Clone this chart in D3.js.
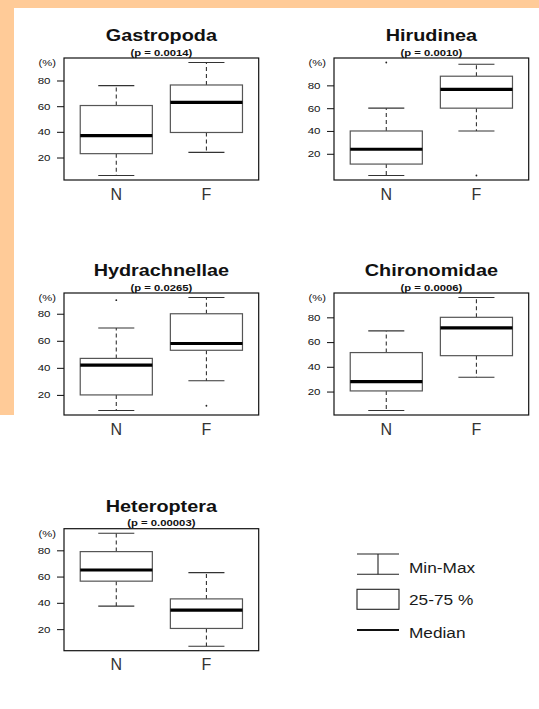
<!DOCTYPE html>
<html>
<head>
<meta charset="utf-8">
<script src="https://cdn.jsdelivr.net/npm/d3@7"></script>
<style>
  html, body { margin: 0; padding: 0; background: #fff; }
  svg { display: block; font-family: "Liberation Sans", Arial, sans-serif; }
</style>
</head>
<body>
<div id="chart"></div>
<script>
// Data (percent)
const taxa = ['Gastropoda', 'Hirudinea', 'Hydrachnellae', 'Chironomidae', 'Heteroptera'];
const pLabels = ['(p = 0.0014)', '(p = 0.0010)', '(p = 0.0265)', '(p = 0.0006)', '(p = 0.00003)'];
const groups = ['N', 'F'];
const yTicks = [20, 40, 60, 80];

const nMin = [6, 1, 8.5, 4.7, 37.5];
const nQ1 = [23, 11, 20, 20.5, 56.5];
const nMedian = [37, 24, 42, 28, 65];
const nQ3 = [60.5, 40, 47, 51.5, 79];
const nMax = [76, 60, 69.5, 69, 93];
const nOutliers = [[], [100], [90], [], []];

const fMin = [24, 40, 30.5, 31.5, 7];
const fQ1 = [39.5, 60, 53, 49, 20.5];
const fMedian = [63, 76.5, 58, 71.5, 34.5];
const fQ3 = [76.5, 88, 80, 80, 43];
const fMax = [94, 98.5, 92, 96, 63];
const fOutliers = [[], [1], [12], [], []];

const legendLabels = ['Min-Max', '25-75 %', 'Median'];

const width = 539, height = 709;

const svg = d3.select('#chart').append('svg')
  .attr('width', width)
  .attr('height', height);

// background
svg.append('rect').attr('width', width).attr('height', height).attr('fill', '#fff');
svg.append('rect').attr('x', 0).attr('y', 0).attr('width', width).attr('height', 8).attr('fill', '#FFCB98');
svg.append('rect').attr('x', 0).attr('y', 0).attr('width', 14).attr('height', 415).attr('fill', '#FFCB98');

// helper: horizontally stretched text (the source picture is stretched)
function stretchText(g, x, y, sx, txt) {
  return g.append('text')
    .attr('transform', 'translate(' + x + ',' + y + ') scale(' + sx + ',1)')
    .text(txt);
}

// panel layout
const boxW = 194.7, boxH = 122;
const colX = [64, 334];
const rowY = [58, 293, 528.7];

taxa.forEach((name, i) => {
  const left = colX[i % 2];
  const top = rowY[Math.floor(i / 2)];
  const g = svg.append('g').attr('transform', 'translate(' + left + ',' + top + ')');

  const stats = [
    { min: nMin[i], q1: nQ1[i], med: nMedian[i], q3: nQ3[i], max: nMax[i], out: nOutliers[i] },
    { min: fMin[i], q1: fQ1[i], med: fMedian[i], q3: fQ3[i], max: fMax[i], out: fOutliers[i] }
  ];

  // R style: range of data extended by 4%
  const all = stats.flatMap(s => [s.min, s.max].concat(s.out));
  const lo = d3.min(all), hi = d3.max(all);
  const pad = (hi - lo) * 0.04;
  const y = d3.scaleLinear().domain([lo - pad, hi + pad]).range([boxH, 0]);
  const x = d3.scaleLinear().domain([0.42, 2.58]).range([0, boxW]);

  // y axis
  const yAxis = d3.axisLeft(y).tickValues(yTicks).tickSize(7).tickFormat('');
  const ax = g.append('g').call(yAxis);
  ax.select('.domain').remove();
  ax.selectAll('.tick line').attr('stroke', '#222').attr('stroke-width', 1.1);

  const labels = g.append('g')
    .attr('font-size', 9.2)
    .attr('text-anchor', 'end')
    .attr('fill', '#111');
  yTicks.forEach(t => {
    stretchText(labels, -13.5, y(t) + 3.4, 1.25, t);
  });
  stretchText(labels, -8, 8, 1.22, '(%)');

  // boxes
  stats.forEach((s, j) => {
    const cx = x(j + 1);
    const half = x(1.4) - x(1);
    const cap = x(1.2) - x(1);
    // whiskers
    g.append('line')
      .attr('x1', cx).attr('x2', cx)
      .attr('y1', y(s.q3)).attr('y2', y(s.max))
      .attr('stroke', '#333').attr('stroke-width', 1.1).attr('stroke-dasharray', '4,3');
    g.append('line')
      .attr('x1', cx).attr('x2', cx)
      .attr('y1', y(s.q1)).attr('y2', y(s.min))
      .attr('stroke', '#333').attr('stroke-width', 1.1).attr('stroke-dasharray', '4,3');
    [s.min, s.max].forEach(v => {
      g.append('line')
        .attr('x1', cx - cap).attr('x2', cx + cap)
        .attr('y1', y(v)).attr('y2', y(v))
        .attr('stroke', '#333').attr('stroke-width', 1.1);
    });
    g.append('rect')
      .attr('x', cx - half).attr('y', y(s.q3))
      .attr('width', half * 2).attr('height', y(s.q1) - y(s.q3))
      .attr('fill', '#fff').attr('stroke', '#555').attr('stroke-width', 1.2);
    g.append('line')
      .attr('x1', cx - half).attr('x2', cx + half)
      .attr('y1', y(s.med)).attr('y2', y(s.med))
      .attr('stroke', '#000').attr('stroke-width', 3.2);
    s.out.forEach(v => {
      g.append('circle').attr('cx', cx).attr('cy', y(v)).attr('r', 0.9).attr('fill', '#222');
    });

    g.append('text')
      .attr('x', cx).attr('y', boxH + 19.5)
      .attr('text-anchor', 'middle')
      .attr('font-size', 16)
      .attr('fill', '#333')
      .text(groups[j]);
  });

  // frame
  g.append('rect')
    .attr('width', boxW).attr('height', boxH)
    .attr('fill', 'none').attr('stroke', '#111').attr('stroke-width', 1.2);

  // titles
  const tg = g.append('g').attr('text-anchor', 'middle').attr('font-weight', 'bold').attr('fill', '#111');
  stretchText(tg, boxW / 2, -17, 1.18, name).attr('font-size', 16.8);
  stretchText(tg, boxW / 2, -2.5, 1.33, pLabels[i]).attr('font-size', 8.5);
});

// legend
const lg = svg.append('g').attr('transform', 'translate(357,554)');
const lw = 42;
lg.append('line').attr('x1', 0).attr('x2', lw).attr('y1', 0).attr('y2', 0).attr('stroke', '#222').attr('stroke-width', 1.1);
lg.append('line').attr('x1', 0).attr('x2', lw).attr('y1', 20.3).attr('y2', 20.3).attr('stroke', '#222').attr('stroke-width', 1.1);
lg.append('line').attr('x1', lw / 2).attr('x2', lw / 2).attr('y1', 0).attr('y2', 20.3).attr('stroke', '#222').attr('stroke-width', 1.1);
lg.append('rect').attr('x', 0).attr('y', 35.3).attr('width', lw).attr('height', 20).attr('fill', '#fff').attr('stroke', '#222').attr('stroke-width', 1.1);
lg.append('line').attr('x1', 0).attr('x2', lw).attr('y1', 76).attr('y2', 76).attr('stroke', '#111').attr('stroke-width', 2);

const lt = lg.append('g').attr('font-size', 15).attr('fill', '#1a1a1a');
const legendY = [19.3, 51, 84.3];
legendLabels.forEach((t, k) => {
  stretchText(lt, 52, legendY[k], 1.15, t);
});
</script>
</body>
</html>
